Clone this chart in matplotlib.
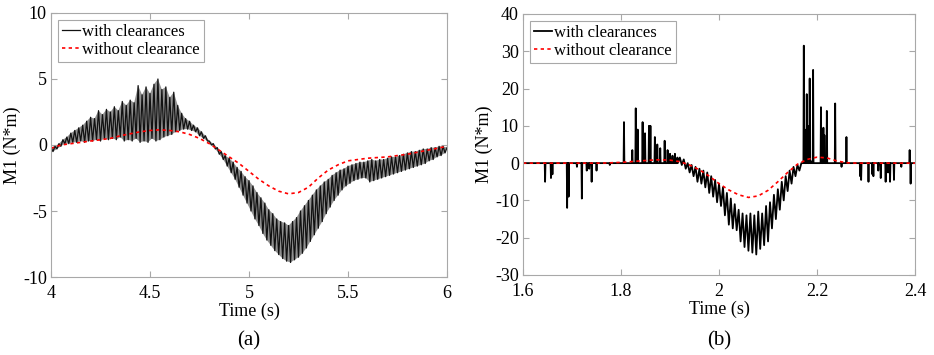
import matplotlib
matplotlib.use('Agg')
import matplotlib.pyplot as plt
import numpy as np

plt.rcParams['font.family'] = ['Liberation Serif', 'DejaVu Serif']
plt.rcParams['axes.unicode_minus'] = False

# ---- panel (a): 4 s .. 6 s, samples every 0.01 s (alternating peak / trough)
a_clear = [
    -0.2, -0.5, -0.1, -0.3, 0.1, -0.1, 0.4, 0.1, 0.6, 0.1,
    0.9, 0.2, 1.1, 0.2, 1.3, 0.3, 1.5, 0.2, 1.8, 0.3,
    2.1, 0.3, 2.0, 0.4, 2.6, 0.3, 2.3, 0.5, 2.7, 0.4,
    2.5, 0.5, 2.9, 0.4, 2.6, 0.6, 3.3, 0.3, 3.0, 0.4,
    3.4, 0.3, 3.2, 0.5, 4.5, 0.2, 3.8, 0.3, 4.4, 0.2,
    3.9, 0.5, 4.6, 0.3, 5.0, 0.4, 4.2, 0.6, 4.4, 0.7,
    3.6, 0.8, 4.0, 1.0, 3.0, 1.1, 2.4, 1.2, 2.0, 1.2,
    1.8, 1.1, 1.5, 1.0, 1.3, 0.7, 1.0, 0.5, 0.7, 0.3,
    0.3, 0.0, 0.1, -0.3, -0.2, -0.7, -0.5, -1.1, -0.8, -1.6,
    -1.0, -2.1, -1.3, -2.6, -1.7, -3.2, -2.0, -3.8, -2.4, -4.4,
    -2.7, -5.0, -3.1, -5.6, -3.6, -6.1, -4.0, -6.7, -4.4, -7.2,
    -4.9, -7.6, -5.2, -8.0, -5.6, -8.3, -5.8, -8.6, -5.9, -8.8,
    -6.1, -8.9, -5.8, -8.7, -5.5, -8.5, -5.0, -8.2, -4.6, -7.8,
    -4.2, -7.3, -3.8, -6.8, -3.4, -6.3, -3.1, -5.8, -2.8, -5.2,
    -2.6, -4.7, -2.3, -4.2, -2.1, -3.8, -1.9, -3.4, -1.8, -3.1,
    -1.6, -2.9, -1.5, -2.7, -1.4, -2.6, -1.3, -2.5, -1.3, -2.5,
    -1.2, -2.8, -1.1, -2.7, -1.2, -2.6, -1.1, -2.5, -1.1, -2.4,
    -1.0, -2.3, -0.9, -2.2, -0.9, -2.1, -0.8, -2.0, -0.7, -1.9,
    -0.6, -1.8, -0.5, -1.7, -0.5, -1.6, -0.4, -1.5, -0.3, -1.4,
    -0.3, -1.2, -0.2, -1.1, -0.2, -0.9, -0.1, -0.8, -0.1, -0.6,
    -0.2,
]
a_time = np.linspace(4.0, 6.0, len(a_clear))

a_ref_time = [4.00, 4.05, 4.10, 4.15, 4.20, 4.25, 4.30, 4.35, 4.40, 4.45,
              4.50, 4.55, 4.60, 4.65, 4.70, 4.75, 4.80, 4.85, 4.90, 4.95,
              5.00, 5.05, 5.10, 5.15, 5.20, 5.25, 5.30, 5.35, 5.40, 5.45,
              5.50, 5.55, 5.60, 5.65, 5.70, 5.75, 5.80, 5.85, 5.90, 5.95, 6.00]
a_ref = [-0.25, 0.0, 0.1, 0.2, 0.3, 0.4, 0.5, 0.7, 0.85, 1.0,
         1.1, 1.15, 1.1, 1.0, 0.8, 0.5, 0.1, -0.4, -0.9, -1.4,
         -2.0, -2.6, -3.1, -3.5, -3.7, -3.6, -3.2, -2.5, -1.9, -1.5,
         -1.2, -1.1, -1.0, -0.95, -0.9, -0.8, -0.7, -0.55, -0.4, -0.25, -0.1]

# ---- panel (b): 1.6 s .. 2.4 s
# isolated impacts (time, peak value), the signal returns to zero between them
b_spike_t = [1.645, 1.657, 1.660, 1.690, 1.693, 1.710, 1.720, 1.730, 1.735, 1.740,
             1.750, 1.777, 1.806, 1.823, 1.830, 1.834, 1.844, 1.849, 1.857, 1.860,
             1.869, 1.874, 1.880, 1.889, 1.895, 1.900, 1.905, 1.910, 1.915]
b_spike_v = [-5.0, -4.0, -3.0, -12.0, -9.0, -1.0, -9.5, -2.0, -1.5, -5.0,
             -2.0, -0.5, 11.0, 3.5, 14.7, 9.0, 11.0, 8.0, 10.0, 10.0,
             7.0, 5.0, 4.0, 6.0, 3.5, 2.5, 2.0, 2.5, 1.5]

# contact phase, samples every 0.004 s from 1.920 s
b_band = [1.5, -0.5, 1.0, -1.5, 0.0, -2.5, -0.5, -3.5, -1.0, -5.0,
          -1.5, -5.5, -2.0, -6.5, -2.5, -8.0, -3.5, -9.0, -4.5, -10.5,
          -5.5, -11.5, -6.5, -14.0, -8.0, -16.5, -9.5, -17.5, -11.0, -18.0,
          -12.5, -21.0, -13.5, -22.5, -14.0, -23.5, -13.5, -24.0, -14.0, -24.5,
          -13.0, -23.0, -13.5, -22.0, -11.5, -21.0, -10.5, -17.5, -8.5, -15.0,
          -7.0, -12.5, -5.0, -10.0, -3.5, -7.5, -2.0, -5.5, -1.0, -3.5,
          -0.5, -2.0, 0.0, 0.0]
b_band_t = np.linspace(1.920, 1.920 + 0.004 * (len(b_band) - 1), len(b_band))

b_spike2_t = [2.173, 2.175, 2.179, 2.181, 2.185, 2.188, 2.192, 2.208, 2.213, 2.215,
              2.220, 2.237, 2.250, 2.260, 2.288, 2.290, 2.305, 2.313, 2.315, 2.325,
              2.330, 2.340, 2.345, 2.349, 2.357, 2.372, 2.389, 2.391]
b_spike2_v = [31.5, 9.0, 18.5, 10.0, 22.7, 0.5, 25.0, 15.0, 9.5, 7.5,
              14.0, 16.0, -1.0, 7.0, -3.5, -4.5, -5.0, -3.0, -3.5, -2.0,
              -4.0, -5.0, -2.5, -5.0, -4.5, -1.0, 3.5, -5.5]

b_ref_time = [1.60, 1.76, 1.78, 1.80, 1.82, 1.84, 1.86, 1.88, 1.90, 1.92,
              1.94, 1.96, 1.98, 2.00, 2.02, 2.04, 2.06, 2.08, 2.10, 2.12,
              2.14, 2.16, 2.18, 2.20, 2.22, 2.24, 2.26, 2.28, 2.40]
b_ref = [0.0, 0.0, 0.1, 0.2, 0.4, 0.6, 0.8, 0.9, 0.8, 0.4,
         -0.5, -1.8, -3.5, -5.5, -7.2, -8.5, -9.2, -8.8, -7.3, -5.0,
         -2.5, -0.3, 1.0, 1.6, 1.4, 0.6, 0.1, 0.0, 0.0]


def spikes_to_line(ts, vs, w=0.0008):
    t_out, v_out = [], []
    for t, v in zip(ts, vs):
        t_out += [t - w, t, t + w]
        v_out += [0.0, v, 0.0]
    return t_out, v_out


t1, v1 = spikes_to_line(b_spike_t, b_spike_v)
t2, v2 = spikes_to_line(b_spike2_t, b_spike2_v)
b_time = [1.6] + t1 + list(b_band_t) + t2 + [2.4]
b_clear = [0.0] + v1 + b_band + v2 + [0.0]

fig = plt.figure(figsize=(9.34, 3.55), dpi=100)
ax_a = fig.add_axes([0.0546, 0.2197, 0.424, 0.7437])
ax_b = fig.add_axes([0.560, 0.2254, 0.4197, 0.7352])

grey = '#a8a8a8'


def style(ax, ylab_x):
    for s in ax.spines.values():
        s.set_color(grey)
        s.set_linewidth(0.8)
    ax.tick_params(direction='in', top=True, right=True, color=grey,
                   labelsize=13, length=4)
    ax.tick_params(axis='x', pad=6)
    ax.tick_params(axis='y', pad=3)
    ax.set_xlabel('Time (s)', fontsize=13, labelpad=0)
    ax.set_ylabel('M1 (N*m)', fontsize=13)
    ax.yaxis.set_label_coords(ylab_x, 0.5)


# dense vibration: grey hull through the peaks and troughs, zig-zag on top
hull_t = list(a_time[0::2]) + list(a_time[1::2][::-1])
hull_v = a_clear[0::2] + a_clear[1::2][::-1]
ax_a.fill(hull_t, hull_v, color='#909090', lw=0)
ax_a.plot(a_time, a_clear, color='#111111', lw=0.9, label='with clearances')
ax_a.plot(a_ref_time, a_ref, color='red', lw=1.2, ls=(0, (2, 2)), label='without clearance')
ax_a.set_xlim(4, 6)
ax_a.set_ylim(-10, 10)
ax_a.set_xticks([4, 4.5, 5, 5.5, 6])
ax_a.set_xticklabels(['4', '4.5', '5', '5.5', '6'])
ax_a.set_yticks([-10, -5, 0, 5, 10])
style(ax_a, -0.076)

ax_b.plot(b_time, b_clear, color='black', lw=1.3, label='with clearances')
ax_b.plot(b_ref_time, b_ref, color='red', lw=1.2, ls=(0, (2, 2)), label='without clearance')
ax_b.set_xlim(1.6, 2.4)
ax_b.set_ylim(-30, 40)
ax_b.set_xticks([1.6, 1.8, 2.0, 2.2, 2.4])
ax_b.set_xticklabels(['1.6', '1.8', '2', '2.2', '2.4'])
ax_b.set_yticks([-30, -20, -10, 0, 10, 20, 30, 40])
style(ax_b, -0.077)

for ax in (ax_a, ax_b):
    leg = ax.legend(loc='upper left', fontsize=12, fancybox=False, framealpha=1,
                    edgecolor=grey, handlelength=1.1, handletextpad=0.1,
                    borderpad=0.25, labelspacing=0.15, borderaxespad=0.4)
    leg.get_frame().set_linewidth(0.8)

fig.text(0.2658, 0.04, '(a)', ha='center', va='center', fontsize=15)
fig.text(0.770, 0.04, '(b)', ha='center', va='center', fontsize=15)

fig.savefig('out.png', dpi=100)
